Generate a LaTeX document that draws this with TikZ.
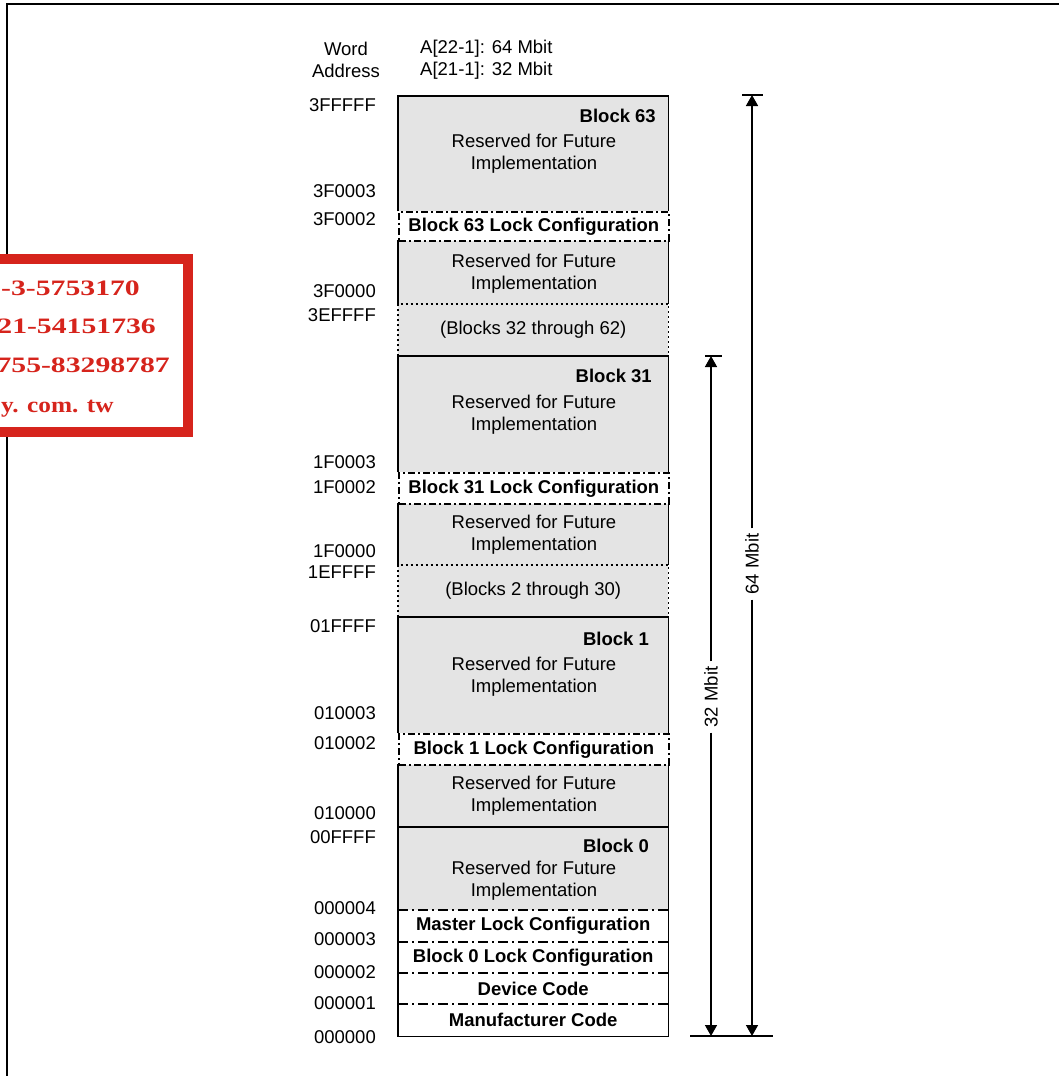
\documentclass[tikz,border=0pt]{standalone}
\usepackage{fontspec}
\setmainfont{Liberation Sans}
\newfontfamily\stampfont{Liberation Serif}[FakeStretch=1.35]
\newfontfamily\stampfontb{Liberation Serif}[FakeStretch=1.15]
\usetikzlibrary{arrows.meta}
\definecolor{blockgray}{RGB}{228,228,228}
\definecolor{stampred}{RGB}{214,36,28}
\begin{document}
\begin{tikzpicture}[x=1pt,y=-1pt,
  txt/.style={font=\fontsize{18.5}{22}\selectfont, inner sep=0pt, align=center},
  btxt/.style={font=\fontsize{18.5}{22}\selectfont\bfseries, inner sep=0pt, align=center},
  addr/.style={txt, anchor=east},
  solidline/.style={line width=1.7pt},
  dashdotline/.style={line width=1.7pt, dash pattern=on 7pt off 3pt on 2pt off 3pt},
  sepline/.style={line width=1.5pt, dash pattern=on 10pt off 4pt on 2pt off 4pt},
  dotline/.style={line width=1.5pt, dash pattern=on 2pt off 3pt},
  region/.style={anchor=north west, inner sep=0pt, minimum width=270pt, fill=blockgray, draw=none},
  gapregion/.style={region, font=\fontsize{18.5}{22}\selectfont},
  lockbox/.style={anchor=north west, inner sep=0pt, minimum width=270pt, fill=white, draw, dashdotline, font=\fontsize{18.5}{22}\selectfont\bfseries},
  codebox/.style={anchor=north west, inner sep=0pt, minimum width=270pt, fill=white, draw=none, font=\fontsize{18.5}{22}\selectfont\bfseries},
  dim/.style={line width=1.5pt, -{Triangle[length=11pt,width=12pt]}},
  dimlbl/.style={font=\fontsize{18.5}{22}\selectfont, rotate=90, inner xsep=5pt, inner ysep=0pt},
  stamptxt/.style={font=\stampfont\bfseries\fontsize{22}{26}\selectfont, text=stampred, inner sep=0pt, anchor=base east},
]
\useasboundingbox (0,0) rectangle (1059,1076);
\clip (0,0) rectangle (1059,1076);

% outer frame (cropped)
\coordinate (fbl) at (7,1090);
\coordinate (ftl) at (7,4);
\coordinate (ftr) at (1070,4);
\draw[solidline] (fbl) -- (ftl) -- (ftr);

% stamp
\fill[stampred] (-20,254) rectangle (193,437);
\fill[white] (-20,264) rectangle (183,427);
\node[stamptxt] (s1) at (140,295) {-3-5753170};
\node[stamptxt] (s2) at (156,333) {21-54151736};
\node[stamptxt] (s3) at (170,372) {755-83298787};
\node[stamptxt, anchor=base west, font=\stampfontb\bfseries\fontsize{22}{26}\selectfont] (s4) at (1,412) {y. com. tw};

% headers
\node[txt] (wa) at (346,60) {Word\\Address};
\node[txt, anchor=west, align=left] (abits) at (420,60) {A[22-1]: 64 Mbit\\A[21-1]: 32 Mbit};

% regions
\node[region, minimum height=115pt] (r63a) at (398,96) {};
\node[region, minimum height=64pt] (r63b) at (398,240) {};
\node[gapregion, minimum height=52pt] (g1) at (398,304) {(Blocks 32 through 62)};
\node[region, minimum height=116pt] (r31a) at (398,356) {};
\node[region, minimum height=62pt] (r31b) at (398,503) {};
\node[gapregion, minimum height=52pt] (g2) at (398,565) {(Blocks 2 through 30)};
\node[region, minimum height=116pt] (r1a) at (398,617) {};
\node[region, minimum height=63pt] (r1b) at (398,764) {};
\node[region, minimum height=83pt] (r0a) at (398,827) {};
\node[codebox, minimum height=32pt] (mlc) at (398,910) {Master Lock Configuration};
\node[codebox, minimum height=31pt] (b0l) at (398,942) {Block 0 Lock Configuration};
\node[codebox, minimum height=31pt] (dev) at (398,973) {Device Code};
\node[codebox, minimum height=32pt] (mfr) at (398,1004) {Manufacturer Code};

% solid borders
\draw[solidline] (r63a.south west) -- (r63a.north west) -- (r63a.north east) -- (r63a.south east);
\draw[solidline] (r63b.north west) -- (r63b.south west);
\draw[solidline] (r63b.north east) -- (r63b.south east);
\draw[solidline] (r31a.south west) -- (r31a.north west) -- (r31a.north east) -- (r31a.south east);
\draw[solidline] (r31b.north west) -- (r31b.south west);
\draw[solidline] (r31b.north east) -- (r31b.south east);
\draw[solidline] (r1a.south west) -- (r1a.north west) -- (r1a.north east) -- (r1a.south east);
\draw[solidline] (r1b.north west) -- (r1b.south west);
\draw[solidline] (r1b.north east) -- (r1b.south east);
\draw[solidline] (r0a.south west) -- (r0a.north west) -- (r0a.north east) -- (r0a.south east);
\draw[solidline] (mlc.north west) -- (mfr.south west) -- (mfr.south east) -- (mlc.north east);

% dotted gap borders
\draw[dotline] (g1.south west) -- (g1.north west) -- (g1.north east) -- (g1.south east);
\draw[dotline] (g2.south west) -- (g2.north west) -- (g2.north east) -- (g2.south east);

% separators in block 0
\draw[sepline] (mlc.north west) -- (mlc.north east);
\draw[sepline] (b0l.north west) -- (b0l.north east);
\draw[sepline] (dev.north west) -- (dev.north east);
\draw[sepline] (mfr.north west) -- (mfr.north east);

% lock boxes
\node[lockbox, minimum height=29pt] (l63) at (398,211) {Block 63 Lock Configuration};
\node[lockbox, minimum height=31pt] (l31) at (398,472) {Block 31 Lock Configuration};
\node[lockbox, minimum height=31pt] (l1) at (398,733) {Block 1 Lock Configuration};

% block texts
\node[btxt, anchor=east] (n63) at (656,116) {Block 63};
\node[btxt, anchor=east] (n31) at (652,376) {Block 31};
\node[btxt, anchor=east] (n1) at (649,639) {Block 1};
\node[btxt, anchor=east] (n0) at (649,846) {Block 0};
\node[txt] (rv63a) at (534,154) {Reserved for Future\\Implementation};
\node[txt] (rv63b) at (534,274) {Reserved for Future\\Implementation};
\node[txt] (rv31a) at (534,415) {Reserved for Future\\Implementation};
\node[txt] (rv31b) at (534,535) {Reserved for Future\\Implementation};
\node[txt] (rv1a) at (534,677) {Reserved for Future\\Implementation};
\node[txt] (rv1b) at (534,796) {Reserved for Future\\Implementation};
\node[txt] (rv0) at (534,881) {Reserved for Future\\Implementation};

% address labels
\node[addr] (a1) at (376,105) {3FFFFF};
\node[addr] (a2) at (376,191) {3F0003};
\node[addr] (a3) at (376,219) {3F0002};
\node[addr] (a4) at (376,291) {3F0000};
\node[addr] (a5) at (376,315) {3EFFFF};
\node[addr] (a6) at (376,462) {1F0003};
\node[addr] (a7) at (376,487) {1F0002};
\node[addr] (a8) at (376,551) {1F0000};
\node[addr] (a9) at (376,572) {1EFFFF};
\node[addr] (a10) at (376,626) {01FFFF};
\node[addr] (a11) at (376,713) {010003};
\node[addr] (a12) at (376,743) {010002};
\node[addr] (a13) at (376,813) {010000};
\node[addr] (a14) at (376,837) {00FFFF};
\node[addr] (a15) at (376,908) {000004};
\node[addr] (a16) at (376,939) {000003};
\node[addr] (a17) at (376,972) {000002};
\node[addr] (a18) at (376,1003) {000001};
\node[addr] (a19) at (376,1037) {000000};

% dimension lines
\coordinate (t64) at (752,95);
\coordinate (t64l) at (742,95);
\coordinate (t64r) at (763,95);
\coordinate (b64) at (752,1036);
\coordinate (t32) at (711,356);
\coordinate (t32l) at (705,356);
\coordinate (t32r) at (722,356);
\coordinate (b32) at (711,1036);
\coordinate (bl) at (690,1036);
\coordinate (br) at (773,1036);
\draw[solidline] (t64l) -- (t64r);
\draw[solidline] (t32l) -- (t32r);
\draw[solidline] (bl) -- (br);
\node[dimlbl] (lbl64) at (752,564) {64 Mbit};
\node[dimlbl] (lbl32) at (711,697) {32 Mbit};
\draw[dim] (lbl64) -- (t64);
\draw[dim] (lbl64) -- (b64);
\draw[dim] (lbl32) -- (t32);
\draw[dim] (lbl32) -- (b32);
\end{tikzpicture}
\end{document}
